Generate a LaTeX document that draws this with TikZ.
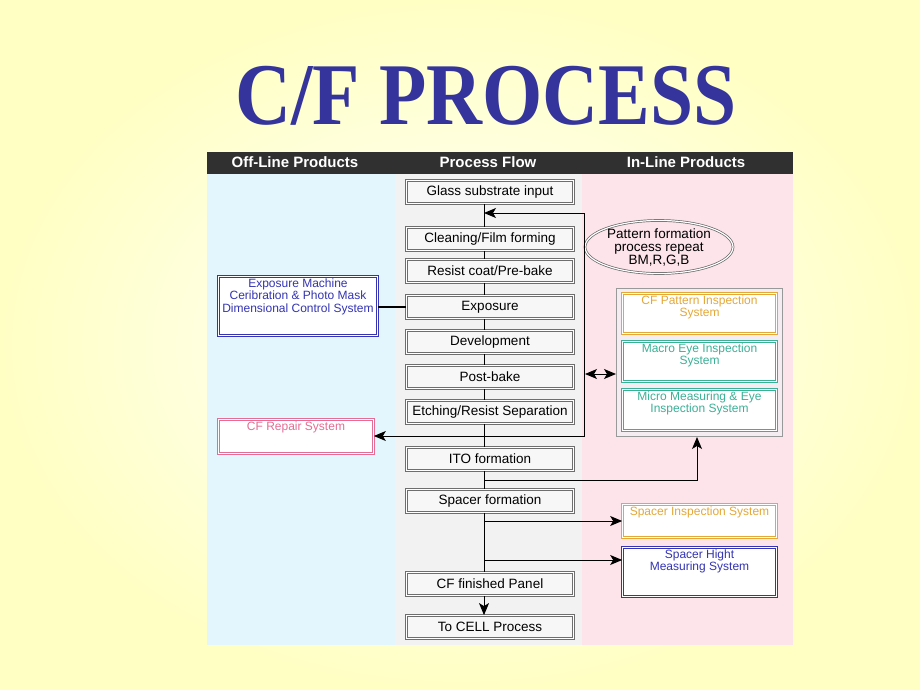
\documentclass[tikz,border=0pt]{standalone}
\usepackage{fontspec}
\setmainfont{Liberation Sans}
\newfontfamily\titlefont{Liberation Serif}
\usetikzlibrary{arrows.meta,shapes.geometric}
\definecolor{bgyel}{RGB}{255,255,196}
\definecolor{hdr}{RGB}{48,48,48}
\definecolor{colL}{RGB}{228,246,253}
\definecolor{colM}{RGB}{242,242,242}
\definecolor{colR}{RGB}{252,228,234}
\definecolor{cblue}{RGB}{52,52,180}
\definecolor{corange}{RGB}{228,168,56}
\definecolor{cteal}{RGB}{60,176,150}
\definecolor{cpink}{RGB}{226,110,150}
\definecolor{ttl}{RGB}{52,52,156}
\definecolor{grpfill}{RGB}{244,236,240}
\definecolor{pline}{RGB}{110,110,110}
\tikzset{
  pbox/.style={draw=pline, double=white, line width=0.8pt, double distance=1.6pt,
    fill=gray!6, minimum width=167pt, minimum height=23pt, inner sep=0pt,
    font=\fontsize{13.5}{15}\selectfont},
  sbox/.style={draw=#1, double=white, line width=0.7pt, double distance=1.6pt,
    fill=white, inner sep=0pt, text=#1, font=\fontsize{12}{12.5}\selectfont},
  hdrtxt/.style={text=white, font=\fontsize{15}{16}\selectfont\bfseries},
  conn/.style={draw=black, line width=1pt},
  bigtip/.tip={Stealth[length=12pt,width=10pt,inset=3pt,fill=black]},
  arr/.style={conn, -bigtip},
}
\newcommand{\tbox}[3]{\parbox[c][#2][t]{#1}{\centering\vspace{2pt}#3}}
\begin{document}
\begin{tikzpicture}[x=1pt,y=-1pt]
\useasboundingbox (0,0) rectangle (920,690);
\shade[inner color=white, outer color=bgyel] (0,0) rectangle (920,690);
% title
\node[text=ttl, font=\titlefont\bfseries\fontsize{88}{90}\selectfont, xscale=0.88] (title) at (486,96) {C/F PROCESS};
% columns
\fill[colL] (207,174) rectangle (395,645);
\fill[colM] (395,174) rectangle (582,645);
\fill[colR] (582,174) rectangle (793,645);
\fill[hdr] (207,152) rectangle (793,174);
\node[hdrtxt] (h1) at (295,162) {Off-Line Products};
\node[hdrtxt] (h2) at (488,162) {Process Flow};
\node[hdrtxt] (h3) at (686,162) {In-Line Products};
% spine
\coordinate (spine) at (484,0);
% process boxes
\node[pbox] (glass) at (490,192) {Glass substrate input};
\node[pbox] (clean) at (490,239) {Cleaning/Film forming};
\node[pbox] (resist) at (490,271) {Resist coat/Pre-bake};
\node[pbox] (expos) at (490,307) {Exposure};
\node[pbox] (devel) at (490,342) {Development};
\node[pbox] (post) at (490,377) {Post-bake};
\node[pbox] (etch) at (490,412) {Etching/Resist Separation};
\node[pbox] (ito) at (490,459) {ITO formation};
\node[pbox] (spacer) at (490,501) {Spacer formation};
\node[pbox] (cffin) at (490,584) {CF finished Panel};
\node[pbox] (tocell) at (490,627) {To CELL Process};
% off-line boxes
\node[sbox=cblue] (expm) at (298,306) {\tbox{159pt}{59pt}{Exposure Machine\\Ceribration \& Photo Mask\\Dimensional Control System}};
\node[sbox=cpink] (repair) at (296,436.5) {\tbox{155pt}{34pt}{CF Repair System}};
% in-line group
\node[draw=gray!80, line width=1pt, fill=grpfill, minimum width=166pt, minimum height=148pt] (group) at (699.5,362.5) {};
\node[sbox=corange] (cfpat) at (699.5,313.5) {\tbox{154pt}{40pt}{CF Pattern Inspection\\System}};
\node[sbox=cteal] (macro) at (699.5,361.5) {\tbox{154pt}{40pt}{Macro Eye Inspection\\System}};
\node[sbox=cteal] (micro) at (699.5,410) {\tbox{154pt}{41pt}{Micro Measuring \& Eye\\Inspection System}};
\node[sbox=corange] (spinsp) at (699.5,521) {\tbox{154pt}{33pt}{Spacer Inspection System}};
\node[sbox=cblue] (spht) at (699.5,572) {\tbox{154pt}{49pt}{Spacer Hight\\Measuring System}};
% ellipse
\node[ellipse, draw=gray!80!black, double=white, line width=0.7pt, double distance=1.2pt,
  minimum width=148pt, minimum height=50pt, inner sep=0pt, align=center,
  font=\fontsize{13.5}{13}\selectfont] (pattern) at (659,247) {Pattern formation\\process repeat\\BM,R,G,B};
% spine segments
\draw[conn] (glass.south -| spine) -- (clean.north -| spine);
\draw[conn] (clean.south -| spine) -- (resist.north -| spine);
\draw[conn] (resist.south -| spine) -- (expos.north -| spine);
\draw[conn] (expos.south -| spine) -- (devel.north -| spine);
\draw[conn] (devel.south -| spine) -- (post.north -| spine);
\draw[conn] (post.south -| spine) -- (etch.north -| spine);
\draw[conn] (etch.south -| spine) -- (ito.north -| spine);
\draw[conn] (ito.south -| spine) -- (spacer.north -| spine);
\draw[conn] (spacer.south -| spine) -- (cffin.north -| spine);
\draw[arr] (cffin.south -| spine) -- (tocell.north -| spine);
% loop
\coordinate (loopB) at (484,436);
\coordinate (loopR) at (584,436);
\coordinate (loopT) at (584,213);
\draw[arr] (loopB) -- (repair.east |- loopB);
\draw[arr] (loopB) -- (loopR) -- (loopT) -- (spine |- loopT);
% offline link
\draw[conn, line width=2pt] (expm.east |- expos) -- (expos.west);
% double arrow
\coordinate (dbl) at (585,374);
\draw[conn, bigtip-bigtip] (dbl) -- (group.west |- dbl);
% ITO to group
\coordinate (itoB) at (484,480);
\coordinate (grpB) at (697,437);
\draw[arr] (itoB) -| (grpB);
% spacer arrows
\coordinate (sp1) at (484,521);
\coordinate (sp2) at (484,560);
\draw[arr] (sp1) -- (spinsp.west |- sp1);
\draw[arr] (sp2) -- (spht.west |- sp2);
\end{tikzpicture}
\end{document}
